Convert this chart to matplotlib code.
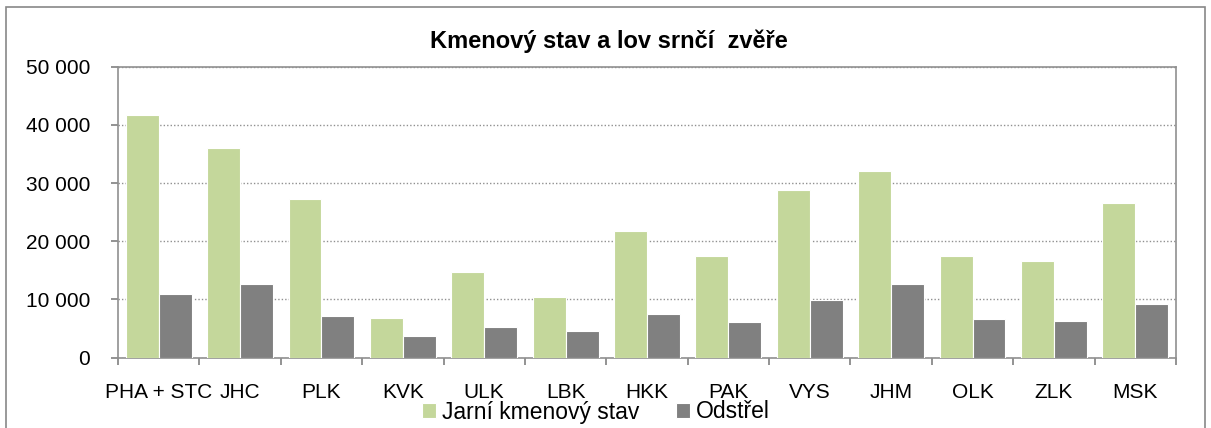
import matplotlib.pyplot as plt
import numpy as np
from matplotlib.ticker import FuncFormatter, FixedLocator

kraje = ["PHA + STC", "JHC", "PLK", "KVK", "ULK", "LBK", "HKK",
         "PAK", "VYS", "JHM", "OLK", "ZLK", "MSK"]
jarni_stav = [41700, 36000, 27200, 6850, 14650, 10400, 21700,
              17500, 28850, 32050, 17500, 16550, 26550]
odstrel = [11000, 12650, 7150, 3650, 5250, 4550, 7500,
           6150, 9850, 12650, 6550, 6250, 9150]

green = "#c4d79b"
grey = "#808080"

plt.rcParams["font.family"] = ["Liberation Sans", "DejaVu Sans"]

W, H = 1211, 428
fig = plt.figure(figsize=(W / 100, H / 100), dpi=100)
ax = fig.add_axes([118 / W, 1 - 357.5 / H, 1058 / W, 290.8 / H])

x = np.arange(len(kraje))
w = 0.405
ax.bar(x - w / 2, jarni_stav, w, color=green, edgecolor="white", linewidth=0.8,
       label="Jarní kmenový stav", zorder=3)
ax.bar(x + w / 2, odstrel, w, color=grey, edgecolor="white", linewidth=0.8,
       label="Odstřel", zorder=3)

ax.set_xlim(-0.5, len(kraje) - 0.5)
ax.set_ylim(0, 50000)
ax.set_yticks(range(0, 50001, 10000))
ax.yaxis.set_major_formatter(FuncFormatter(lambda v, _: f"{int(v):,}".replace(",", " ")))
ax.yaxis.grid(True, linestyle=(0, (1, 1.5)), color="#909090", linewidth=1)
ax.set_axisbelow(True)

# category boundaries as major ticks, labels on minor ticks
ax.xaxis.set_major_locator(FixedLocator(np.arange(-0.5, len(kraje), 1)))
ax.xaxis.set_major_formatter(FuncFormatter(lambda v, _: ""))
ax.xaxis.set_minor_locator(FixedLocator(x))
ax.set_xticklabels(kraje, minor=True)
ax.tick_params(axis="x", which="major", length=5, width=1.2, color="#808080", direction="out")
ax.tick_params(axis="x", which="minor", length=0, pad=18.5, labelsize=15)
ax.tick_params(axis="y", length=5, width=1.2, color="#808080", labelsize=15, pad=15)
for lbl in ax.get_yticklabels():
    lbl.set_horizontalalignment("right")

for s in ax.spines.values():
    s.set_color("#909090")
    s.set_linewidth(1.2)

fig.text(608.5 / W, 1 - 41 / H, "Kmenový stav a lov srnčí  zvěře", ha="center", va="center",
         fontsize=17, fontweight="bold")

fig.legend(loc="center", bbox_to_anchor=(596 / W, 1 - 412 / H), ncol=2, frameon=False,
           fontsize=16.5, handlelength=0.61, handleheight=0.61, handletextpad=0.26,
           columnspacing=1.57, borderaxespad=0, borderpad=0)

# outer chart border
fig.patches.append(plt.Rectangle((6 / W, -0.01), 1199 / W, 1.01 - 7 / H,
                                 transform=fig.transFigure, fill=False,
                                 edgecolor="#888888", linewidth=1.2))

fig.savefig("out.png", dpi=100)
